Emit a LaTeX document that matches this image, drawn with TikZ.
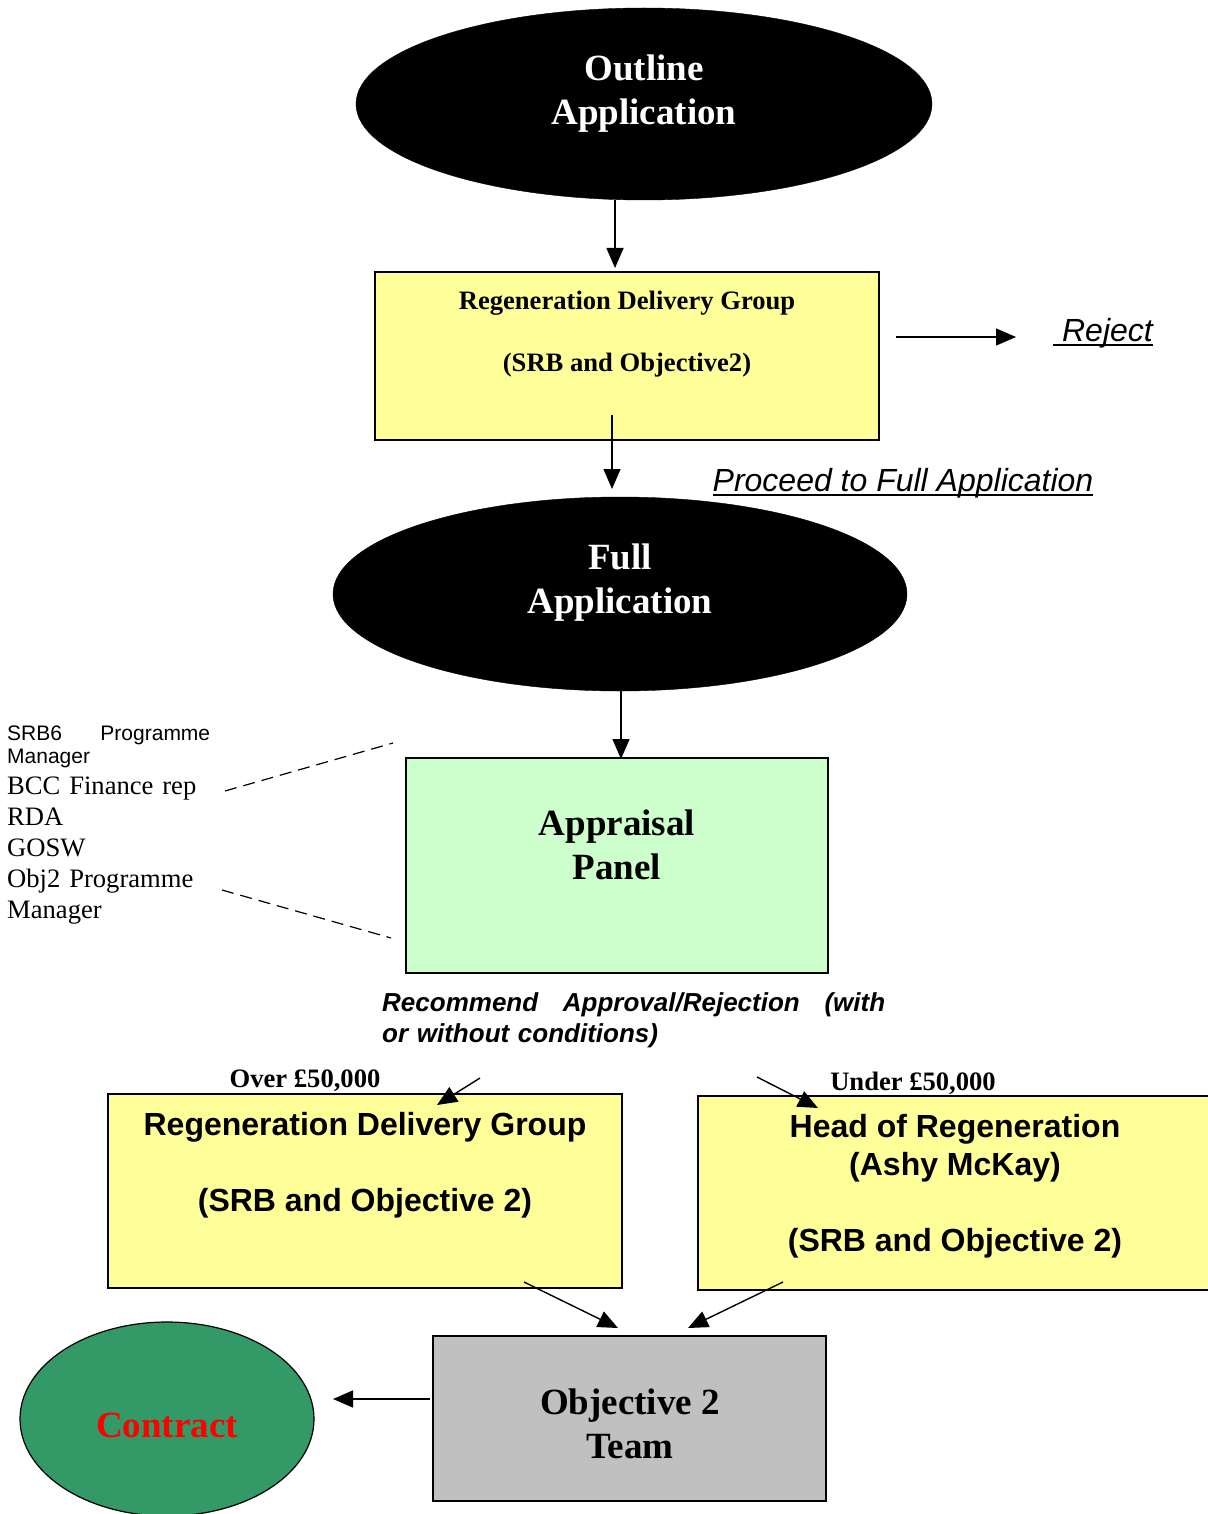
\documentclass[tikz,border=0pt]{standalone}
\usepackage{fontspec}
\setmainfont{Liberation Serif}
\setsansfont{Liberation Sans}
\usetikzlibrary{shapes.geometric,arrows.meta}
\definecolor{boxyellow}{HTML}{FFFF99}
\definecolor{panelgreen}{HTML}{CCFFCC}
\definecolor{teamgrey}{HTML}{C0C0C0}
\definecolor{contractgreen}{HTML}{339966}
\definecolor{contractred}{HTML}{FF0000}
\newcommand\myul[1]{\setbox0\hbox{#1}\rlap{\rule[-5pt]{\wd0}{2pt}}\box0}
\begin{document}
\begin{tikzpicture}[x=1pt,y=-1pt,
  arr/.style={-{Triangle[length=20pt,width=17pt]}, line width=1.4pt},
  dashline/.style={dash pattern=on 12pt off 7pt, line width=1.2pt},
  blackell/.style={ellipse, fill=black, draw=black, inner sep=0pt},
  ybox/.style={rectangle, draw=black, line width=1.5pt, fill=boxyellow, inner sep=0pt},
  titletxt/.style={align=center, inner sep=0pt, font=\fontsize{37}{44}\selectfont\bfseries},
  ryboxtxt/.style={align=center, inner sep=0pt, font=\fontsize{26.6}{31}\selectfont\bfseries},
  sboxtxt/.style={align=center, inner sep=0pt, font=\sffamily\fontsize{32}{38}\selectfont\bfseries},
  itlink/.style={inner sep=0pt, font=\sffamily\itshape\fontsize{32}{38}\selectfont},
  amount/.style={inner sep=0pt, font=\fontsize{26.6}{31}\selectfont\bfseries}]
\useasboundingbox (0,0) rectangle (1207,1514);

% Outline application
\node[blackell, minimum width=576pt, minimum height=192pt] (outline) at (644,104) {};
\node[titletxt, text=white] (outlinetxt) at (644,94) {Outline\\Application};

% Upper regeneration delivery group
\node[ybox, minimum width=504pt, minimum height=168pt] (rdg) at (627,356) {};
\node[ryboxtxt] (rdgtxt) at (627,334) {Regeneration Delivery Group\\[31pt](SRB and Objective2)};

% Reject
\coordinate (rejs) at (896,337);
\coordinate (reje) at (1016,337);
\draw[arr] (rejs) -- (reje);
\node[itlink, anchor=west] (reject) at (1053,333) {\myul{\ Reject}};

% Proceed
\node[itlink] (proceed) at (903,483) {\myul{Proceed to Full Application}};

% Full application
\node[blackell, minimum width=574pt, minimum height=194pt] (full) at (620,594) {};
\node[titletxt, text=white] (fulltxt) at (620,583) {Full\\Application};

% Appraisal panel
\node[rectangle, draw=black, line width=1.5pt, fill=panelgreen, minimum width=422pt, minimum height=215pt, inner sep=0pt] (panel) at (617,865.5) {};
\node[titletxt] (paneltxt) at (617,845) {Appraisal\\Panel};

% Member list
\node[anchor=north west, inner sep=0pt, text width=203pt, align=left,
      font=\fontsize{26.6}{31}\selectfont] (members) at (7,726)
  {{\sffamily\fontsize{21}{24}\selectfont SRB6\hfill Programme}\\[-8pt]
   {\sffamily\fontsize{21}{24}\selectfont Manager}\\[0pt]
   BCC Finance rep\\
   RDA\\
   GOSW\\
   Obj2 Programme\\
   Manager};
\coordinate (d1a) at (225,791);
\coordinate (d1b) at (393,743);
\coordinate (d2a) at (222,890);
\coordinate (d2b) at (391,938);
\draw[dashline] (d1a) -- (d1b);
\draw[dashline] (d2a) -- (d2b);

% Recommendation
\node[anchor=north west, inner sep=0pt, text width=503pt, align=left,
      font=\sffamily\bfseries\itshape\fontsize{26}{31}\selectfont] (recommend) at (382,992)
  {Recommend\hfill Approval/Rejection\hfill (with\\or without conditions)};

% Amount labels
\node[amount] (over) at (305,1081) {Over £50,000};
\node[amount] (under) at (913,1083) {Under £50,000};

% Lower boxes
\node[ybox, minimum width=514pt, minimum height=194pt] (rdg2) at (365,1191) {};
\node[sboxtxt] (rdg2txt) at (365,1165) {Regeneration Delivery Group\\[38pt](SRB and Objective 2)};
\draw[line width=1.5pt, fill=boxyellow] (698,1096) rectangle (1215,1290);
\node[sboxtxt] (headtxt) at (955,1186) {Head of Regeneration\\(Ashy McKay)\\[38pt](SRB and Objective 2)};

% Arrows to lower boxes
\coordinate (o1) at (480,1078);
\coordinate (o2) at (437,1105);
\coordinate (u1) at (757,1077);
\coordinate (u2) at (818,1108);
\draw[arr] (o1) -- (o2);
\draw[arr] (u1) -- (u2);

% Objective 2 team
\node[rectangle, draw=black, line width=1.5pt, fill=teamgrey, minimum width=393pt, minimum height=165pt, inner sep=0pt] (team) at (629.5,1418.5) {};
\node[titletxt] (teamtxt) at (630,1424) {Objective 2\\Team};
\coordinate (b1) at (524,1282);
\coordinate (b2) at (618,1328);
\coordinate (b3) at (783,1282);
\coordinate (b4) at (688,1328);
\draw[arr] (b1) -- (b2);
\draw[arr] (b3) -- (b4);

% Contract
\node[ellipse, draw=black, line width=1.2pt, fill=contractgreen, minimum width=294pt, minimum height=194pt, inner sep=0pt] (contract) at (167,1419) {};
\node[titletxt, text=contractred] (contracttxt) at (167,1425) {Contract};
\coordinate (c1) at (430,1399);
\coordinate (c2) at (333,1399);
\draw[arr] (c1) -- (c2);

% Vertical arrows
\coordinate (v1a) at (615,200);
\coordinate (v1b) at (615,268);
\coordinate (v2a) at (612,415);
\coordinate (v2b) at (612,489);
\coordinate (v3a) at (621,691);
\coordinate (v3b) at (621,759);
\draw[arr] (v1a) -- (v1b);
\draw[arr] (v2a) -- (v2b);
\draw[arr] (v3a) -- (v3b);
\end{tikzpicture}
\end{document}
